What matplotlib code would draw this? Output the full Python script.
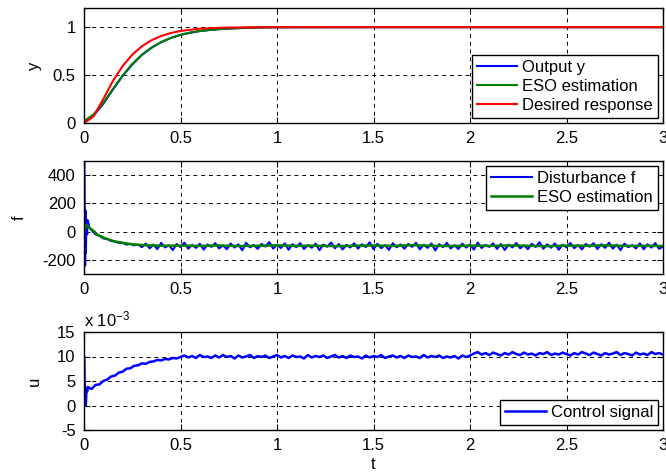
import numpy as np
import matplotlib
matplotlib.use('Agg')
import matplotlib.pyplot as plt

plt.rcParams['font.family'] = ['Liberation Sans', 'DejaVu Sans']
plt.rcParams['font.size'] = 12
plt.rcParams['mathtext.default'] = 'regular'
plt.rcParams['axes.unicode_minus'] = False

# ---- top panel: output / ESO estimate / desired response ----
t_y = [0, 0.05, 0.1, 0.15, 0.2, 0.25, 0.3, 0.35, 0.4, 0.45, 0.5, 0.55, 0.6, 0.65,
       0.7, 0.75, 0.8, 0.85, 0.9, 0.95, 1.0, 1.5, 2.0, 2.5, 3.0]
y_out = [0.0, 0.08, 0.20, 0.35, 0.49, 0.61, 0.71, 0.785, 0.843, 0.887, 0.919, 0.942, 0.959,
         0.970, 0.979, 0.985, 0.99, 0.993, 0.996, 0.998, 0.999, 1.0, 1.0, 1.0, 1.0]
y_eso = [0.02, 0.09, 0.21, 0.355, 0.496, 0.616, 0.713, 0.788, 0.845, 0.888, 0.92, 0.943, 0.96,
         0.971, 0.98, 0.986, 0.99, 0.994, 0.996, 0.998, 0.999, 1.0, 1.0, 1.0, 1.0]
y_des = [0.0, 0.07, 0.25, 0.44, 0.594, 0.713, 0.801, 0.864, 0.908, 0.939, 0.96, 0.973, 0.983,
         0.989, 0.993, 0.996, 0.997, 0.998, 0.999, 0.9995, 1.0, 1.0, 1.0, 1.0, 1.0]

# ---- middle panel: disturbance f and its ESO estimate ----
f_t0 = [0.002, 0.004, 0.006, 0.008, 0.010, 0.012, 0.014, 0.016, 0.019, 0.022, 0.026, 0.03]
f_v0 = [520, 120, -240, 150, -150, 60, 85, -20, 80, 65, 40, 25]
f_vals = [10, -20, -30, -48, -52, -66, -70, -80, -78, -92, -86, -97, -92, -110,
          -85, -118, -92, -124, -80, -112, -96, -130, -88, -109, -78, -121, -94, -115, -86, -127, -91, -108, -82, -119,
          -97, -125, -84, -113, -90, -132, -79, -111, -95, -122, -87, -106, -74, -120, -93, -116, -83, -128, -89, -110,
          -81, -123, -96, -114, -85, -131, -92, -107, -77, -118, -88, -126, -94, -112, -83, -120, -90, -109, -76, -124,
          -86, -117, -95, -129, -82, -111, -91, -121, -87, -108, -79, -125, -93, -115, -84, -133, -89, -110, -80, -119,
          -96, -123, -85, -113, -91, -127, -78, -116, -94, -108, -83, -122, -88, -130, -92, -112, -81, -118, -97, -124,
          -86, -109, -75, -121, -90, -114, -84, -128, -93, -111, -80, -117, -95, -126, -87, -107, -82, -123, -89, -115,
          -78, -120, -92, -131, -85, -110, -96, -119, -83, -125, -90, -113, -81, -122, -105]
fe_t = [0, 0.005, 0.012, 0.02, 0.03, 0.05, 0.07, 0.1, 0.15, 0.2, 0.25, 0.3, 0.35, 0.4,
        0.5, 0.6, 0.7, 0.8, 0.9, 1.0, 1.1, 1.2, 1.3, 1.4, 1.5, 1.6, 1.7, 1.8, 1.9,
        2.0, 2.1, 2.2, 2.3, 2.4, 2.5, 2.6, 2.7, 2.8, 2.9, 3.0]
fe_v = [0, 30, 48, 40, 25, 5, -22, -42, -66, -80, -90, -95, -98, -100,
        -99, -101, -98, -102, -100, -97, -101, -99, -103, -100, -98, -101, -96, -100, -102,
        -99, -101, -98, -100, -103, -99, -100, -97, -101, -100, -102]

# ---- bottom panel: control signal (units of 1e-3) ----
u_t0 = [0.001, 0.003, 0.005, 0.008, 0.01, 0.013, 0.016, 0.02, 0.03]
u_v0 = [10, 5.5, 3, 0, 0.5, 3.5, 2.8, 3.8, 3.5]
u_vals = [3.4, 4.2, 4.3, 5.0, 5.3, 5.9, 6.1, 6.7, 6.9, 7.5, 7.6, 8.1, 8.2, 8.6, 8.5, 8.9, 9.0, 9.3,
          9.2, 9.5, 9.4, 9.7, 9.6, 9.9,
          10.2, 9.8, 10.1, 9.7, 10.3, 9.9, 10.0, 9.7, 10.2, 9.8, 10.3, 9.9, 10.1, 9.6, 10.2, 9.8, 10.0, 10.3, 9.7, 10.1,
          9.9, 10.2, 9.7, 10.0, 10.3, 9.8, 10.1, 9.7, 10.2, 9.9, 10.0, 9.6, 10.3, 9.8, 10.1, 9.9, 10.2, 9.7, 10.0, 10.3,
          9.8, 10.1, 9.7, 10.2, 9.9, 10.0, 9.6, 10.2, 9.8, 10.1, 9.9, 10.3, 9.7, 10.0, 10.2, 9.8, 10.1, 9.7, 10.2, 9.9,
          10.0, 9.7, 10.3, 9.8, 10.1, 9.9, 10.2, 9.7, 10.0, 9.8, 10.1, 9.6, 10.2, 9.9,
          10.2, 10.6, 10.9, 10.4, 10.7, 10.3, 10.8, 10.5, 10.2, 10.7, 10.4, 10.9, 10.5, 10.3, 10.8, 10.4, 10.6, 10.2,
          10.7, 10.5, 10.9, 10.3, 10.6, 10.4, 10.8, 10.5, 10.2, 10.7, 10.4, 10.9, 10.6, 10.3, 10.8, 10.5, 10.2, 10.7,
          10.4, 10.6, 10.9, 10.3, 10.7, 10.5, 10.2, 10.8, 10.4, 10.6, 10.3, 10.9, 10.5, 10.7, 10.4]

x_ticks = [0, 0.5, 1, 1.5, 2, 2.5, 3]
x_ticklabels = ['0', '0.5', '1', '1.5', '2', '2.5', '3']

BLUE = (0, 0, 1)
GREEN = (0, 0.5, 0)
RED = (1, 0, 0)

f_t = f_t0 + list(np.linspace(0.04, 3.0, len(f_vals)))
f_v = f_v0 + f_vals
u_t = u_t0 + list(np.linspace(0.04, 3.0, len(u_vals)))
u_v = u_v0 + u_vals

fig = plt.figure(figsize=(6.66, 4.73), dpi=100)
W, H = 666, 473

def make_ax(top, bottom):
    return fig.add_axes([84 / W, 1 - bottom / H, (663 - 84) / W, (bottom - top) / H])

def style(ax):
    ax.set_xlim(0, 3)
    ax.set_xticks(x_ticks)
    ax.set_xticklabels(x_ticklabels)
    ax.grid(True, color='black', linestyle=(0, (4, 4)), linewidth=0.7)
    ax.tick_params(direction='in', top=True, right=True, length=4, width=0.8, pad=6)
    for s in ax.spines.values():
        s.set_linewidth(1.0)

leg_kw = dict(fancybox=False, edgecolor='black', framealpha=1, handlelength=2.45,
              handletextpad=0.3, labelspacing=0.25, borderpad=0.3, borderaxespad=0.3, fontsize=12)

ax1 = make_ax(8, 123)
ax1.plot(t_y, y_out, color=BLUE, lw=1.5, label='Output y')
ax1.plot(t_y, y_eso, color=GREEN, lw=1.5, label='ESO estimation')
ax1.plot(t_y, y_des, color=RED, lw=1.5, label='Desired response')
ax1.set_ylim(0, 1.2)
ax1.set_yticks([0, 0.5, 1])
ax1.set_yticklabels(['0', '0.5', '1'])
ax1.set_ylabel('y')
ax1.yaxis.set_label_coords(-42 / 579, 0.5)
style(ax1)
ax1.legend(loc='lower right', **leg_kw).get_frame().set_linewidth(1.0)

ax2 = make_ax(161, 274)
ax2.plot(f_t, f_v, color=BLUE, lw=1.5, label='Disturbance f')
ax2.plot(fe_t, fe_v, color=GREEN, lw=1.8, label='ESO estimation')
ax2.set_ylim(-300, 500)
ax2.set_yticks([-200, 0, 200, 400])
ax2.set_ylabel('f')
ax2.yaxis.set_label_coords(-57 / 579, 0.5)
style(ax2)
ax2.legend(loc='upper right', **leg_kw).get_frame().set_linewidth(1.0)

ax3 = make_ax(332, 430)
ax3.plot(u_t, u_v, color=BLUE, lw=1.8, label='Control signal')
ax3.set_ylim(-5, 15)
ax3.set_yticks([-5, 0, 5, 10, 15])
ax3.set_ylabel('u')
ax3.yaxis.set_label_coords(-42 / 579, 0.5)
ax3.set_xlabel('t')
ax3.xaxis.set_label_coords(0.5, -27 / 98)
style(ax3)
ax3.legend(loc='lower right', **leg_kw).get_frame().set_linewidth(1.0)
ax3.text(0, 1.03, r'x 10$^{-3}$', transform=ax3.transAxes, fontsize=12, va='bottom', ha='left')

fig.savefig('out.png', dpi=100)
